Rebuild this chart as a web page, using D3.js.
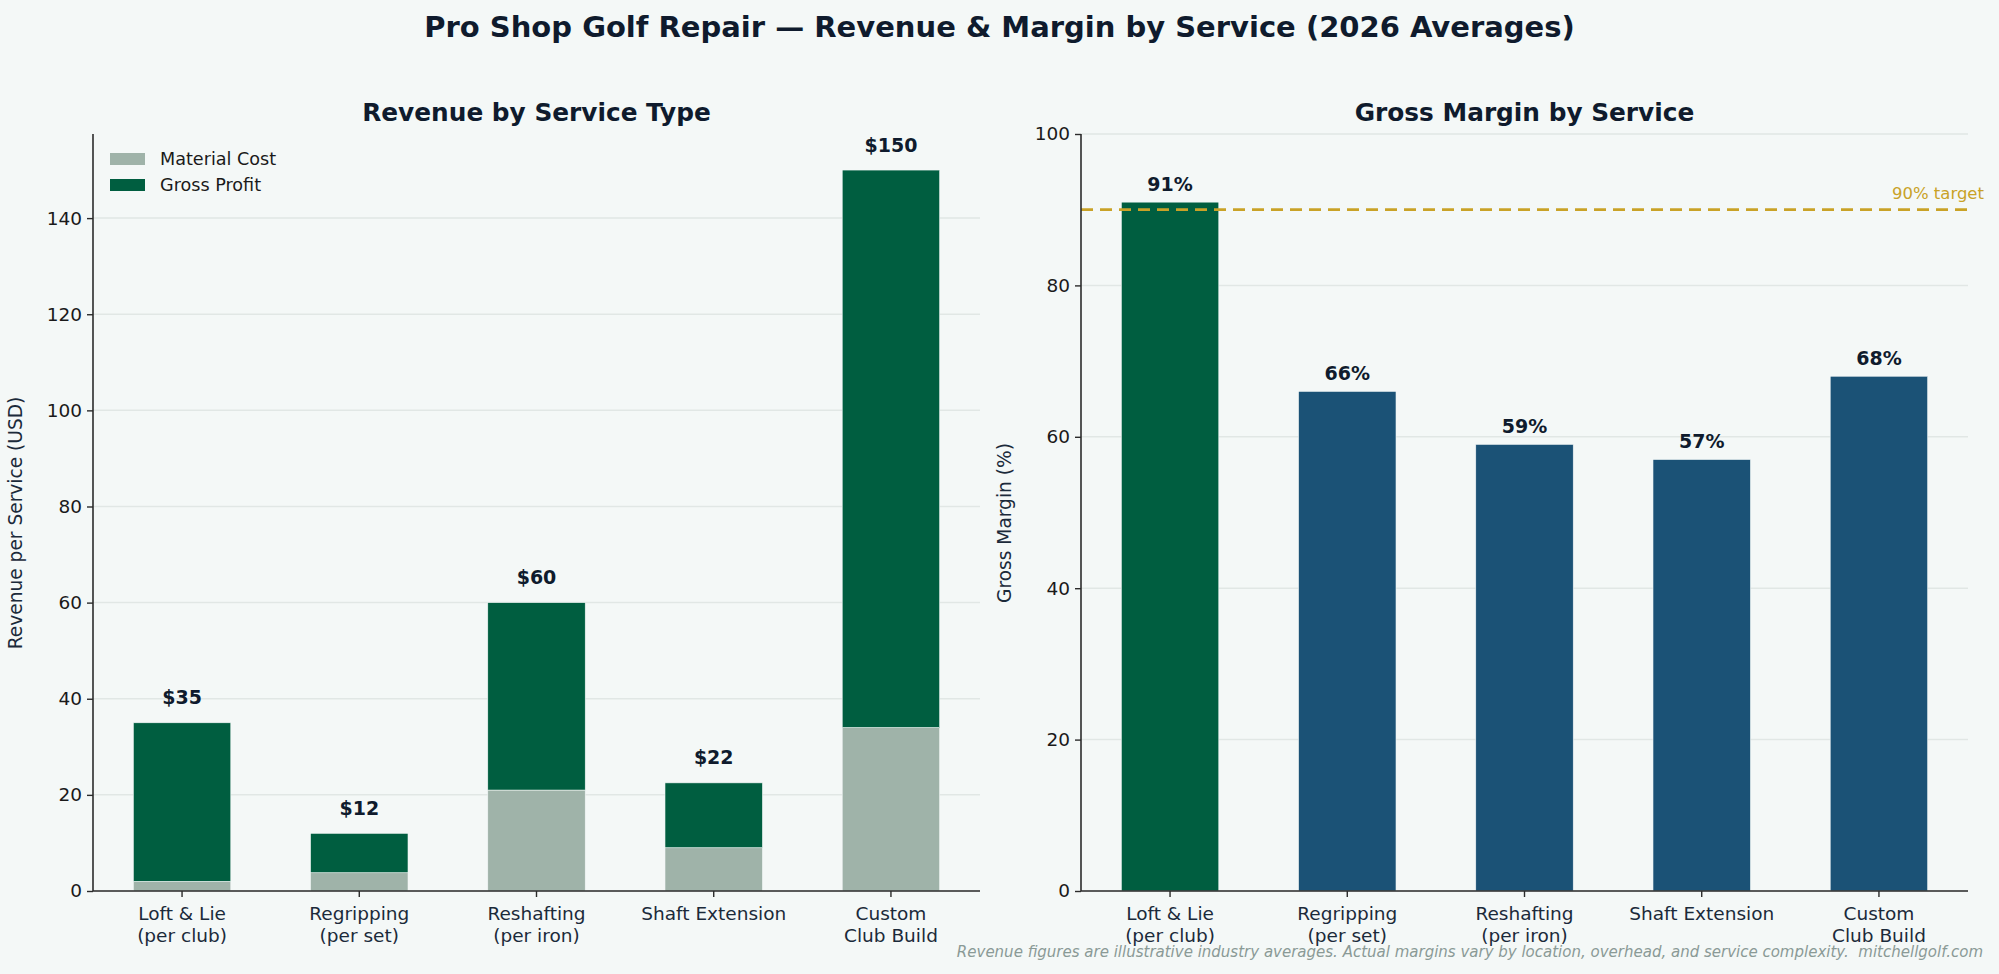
<!DOCTYPE html>
<html>
<head>
<meta charset="utf-8">
<script src="https://cdn.jsdelivr.net/npm/d3@7"></script>
<style>
  html, body { margin: 0; padding: 0; background: #f4f8f7; }
  svg { display: block; font-family: "DejaVu Sans", sans-serif; }
</style>
</head>
<body>
<div id="chart"></div>
<script>
// data
var services = [["Loft & Lie", "(per club)"], ["Regripping", "(per set)"], ["Reshafting", "(per iron)"], ["Shaft Extension"], ["Custom", "Club Build"]];
var revenue = [35, 12, 60, 22.5, 150];
var materialCost = [2, 3.8, 21, 9, 34];
var grossMargin = [91, 66, 59, 57, 68];
var marginTarget = 90;
var revenueTicks = [0, 20, 40, 60, 80, 100, 120, 140];
var marginTicks = [0, 20, 40, 60, 80, 100];

var W = 1999, H = 974;
var bg = '#f4f8f7', dark = '#0f1b2d', green = '#005e40', grey = '#9fb3a9', blue = '#1b5276', gold = '#c9a227';

var svg = d3.select('#chart').append('svg')
  .attr('width', W)
  .attr('height', H);

svg.append('rect').attr('width', W).attr('height', H).attr('fill', bg);

svg.append('text')
  .attr('x', W / 2).attr('y', 37)
  .attr('text-anchor', 'middle')
  .attr('font-size', 29).attr('font-weight', 'bold')
  .attr('fill', dark)
  .text('Pro Shop Golf Repair \u2014 Revenue & Margin by Service (2026 Averages)');

// half-even rounding like python's format
function roundEven(v) {
  var f = Math.floor(v), d = v - f;
  if (Math.abs(d - 0.5) < 1e-9) return f % 2 === 0 ? f : f + 1;
  return Math.round(v);
}

function panel(opts) {
  var x = d3.scaleBand()
    .domain(d3.range(services.length))
    .range([opts.left, opts.right])
    .paddingInner(0.45)
    .paddingOuter(0.2275);
  var y = d3.scaleLinear().domain(opts.domain).range([891, 134]);

  var g = svg.append('g');

  // grid
  g.selectAll('.grid').data(opts.ticks).enter().append('line')
    .attr('x1', opts.left).attr('x2', opts.right)
    .attr('y1', function(d) { return y(d); })
    .attr('y2', function(d) { return y(d); })
    .attr('stroke', '#e1e7e5').attr('stroke-width', 1.5);

  opts.drawBars(g, x, y);

  // axes
  var yAxis = d3.axisLeft(y).tickValues(opts.ticks).tickSize(6).tickPadding(5);
  var ya = g.append('g').attr('transform', 'translate(' + opts.left + ',0)').call(yAxis);
  var xAxis = d3.axisBottom(x).tickSize(6).tickFormat('');
  var xa = g.append('g').attr('transform', 'translate(0,891)').call(xAxis);
  [ya, xa].forEach(function(a) {
    a.select('.domain').attr('stroke', '#2b2b2b').attr('stroke-width', 1.6);
    a.selectAll('.tick line').attr('stroke', '#2b2b2b').attr('stroke-width', 1.4);
  });
  xa.select('.domain').attr('d', 'M' + opts.left + ',0H' + opts.right);
  ya.select('.domain').attr('d', 'M0,134V891');
  ya.selectAll('.tick text').attr('font-size', 18.5).attr('fill', '#1a1a1a').attr('font-family', 'DejaVu Sans');

  xa.selectAll('.tick').each(function(d) {
    var t = d3.select(this).append('text')
      .attr('fill', '#1b2a3a').attr('font-size', 18.5)
      .attr('font-family', 'DejaVu Sans')
      .attr('text-anchor', 'middle');
    services[d].forEach(function(line, i) {
      t.append('tspan').attr('x', 0).attr('y', 29 + i * 21.5).text(line);
    });
  });

  g.append('text')
    .attr('transform', 'translate(' + opts.ylabelX + ',' + opts.ylabelY + ') rotate(-90)')
    .attr('text-anchor', 'middle')
    .attr('font-size', 18.6).attr('fill', '#1b2a3a')
    .text(opts.ylabel);

  g.append('text')
    .attr('x', (opts.left + opts.right) / 2).attr('y', 121)
    .attr('text-anchor', 'middle')
    .attr('font-size', 24.8).attr('font-weight', 'bold').attr('fill', dark)
    .text(opts.title);

  return { x: x, y: y, g: g };
}

// left: revenue stacked
var left = panel({
  left: 93, right: 980, domain: [0, 157.5], ticks: revenueTicks,
  ylabel: 'Revenue per Service (USD)', ylabelX: 22, ylabelY: 523,
  title: 'Revenue by Service Type',
  drawBars: function(g, x, y) {
    g.selectAll('.cost').data(materialCost).enter().append('rect')
      .attr('x', function(d, i) { return x(i); })
      .attr('width', x.bandwidth())
      .attr('y', function(d) { return y(d); })
      .attr('height', function(d) { return y(0) - y(d); })
      .attr('fill', grey).attr('stroke', bg).attr('stroke-width', 0.6);
    g.selectAll('.profit').data(revenue).enter().append('rect')
      .attr('x', function(d, i) { return x(i); })
      .attr('width', x.bandwidth())
      .attr('y', function(d) { return y(d); })
      .attr('height', function(d, i) { return y(materialCost[i]) - y(d); })
      .attr('fill', green).attr('stroke', bg).attr('stroke-width', 0.6);
    g.selectAll('.rlab').data(revenue).enter().append('text')
      .attr('x', function(d, i) { return x(i) + x.bandwidth() / 2; })
      .attr('y', function(d) { return y(d + 3) - 4; })
      .attr('text-anchor', 'middle')
      .attr('font-size', 19).attr('font-weight', 'bold').attr('fill', dark)
      .text(function(d) { return '$' + roundEven(d); });
  }
});

// legend
var legendItems = [['Material Cost', grey], ['Gross Profit', green]];
var lg = left.g.append('g').attr('transform', 'translate(110,153)');
legendItems.forEach(function(it, i) {
  lg.append('rect').attr('x', 0).attr('y', i * 26).attr('width', 35).attr('height', 12).attr('fill', it[1]);
  lg.append('text').attr('x', 50).attr('y', i * 26 + 12).attr('font-size', 17.6).attr('fill', '#1a1a1a').text(it[0]);
});

// right: gross margin
var right = panel({
  left: 1081, right: 1968, domain: [0, 100], ticks: marginTicks,
  ylabel: 'Gross Margin (%)', ylabelX: 1011, ylabelY: 523,
  title: 'Gross Margin by Service',
  drawBars: function(g, x, y) {
    g.selectAll('.mbar').data(grossMargin).enter().append('rect')
      .attr('x', function(d, i) { return x(i); })
      .attr('width', x.bandwidth())
      .attr('y', function(d) { return y(d); })
      .attr('height', function(d) { return y(0) - y(d); })
      .attr('fill', function(d) { return d >= marginTarget ? green : blue; })
      .attr('stroke', bg).attr('stroke-width', 0.6);
    g.append('line')
      .attr('x1', 1081).attr('x2', 1968)
      .attr('y1', y(marginTarget)).attr('y2', y(marginTarget))
      .attr('stroke', gold).attr('stroke-width', 2.8).attr('stroke-dasharray', '12,7');
    g.append('text')
      .attr('x', 1984).attr('y', y(marginTarget) - 11)
      .attr('text-anchor', 'end')
      .attr('font-size', 16.5).attr('fill', gold)
      .text(marginTarget + '% target');
    g.selectAll('.mlab').data(grossMargin).enter().append('text')
      .attr('x', function(d, i) { return x(i) + x.bandwidth() / 2; })
      .attr('y', function(d) { return y(d + 1) - 4; })
      .attr('text-anchor', 'middle')
      .attr('font-size', 19).attr('font-weight', 'bold').attr('fill', dark)
      .text(function(d) { return d + '%'; });
  }
});

svg.append('text')
  .attr('x', 1983).attr('y', 957)
  .attr('text-anchor', 'end')
  .style('white-space', 'pre')
  .attr('font-size', 15).attr('font-style', 'italic').attr('fill', '#8a9a96')
  .text('Revenue figures are illustrative industry averages. Actual margins vary by location, overhead, and service complexity.  mitchellgolf.com');
</script>
</body>
</html>
